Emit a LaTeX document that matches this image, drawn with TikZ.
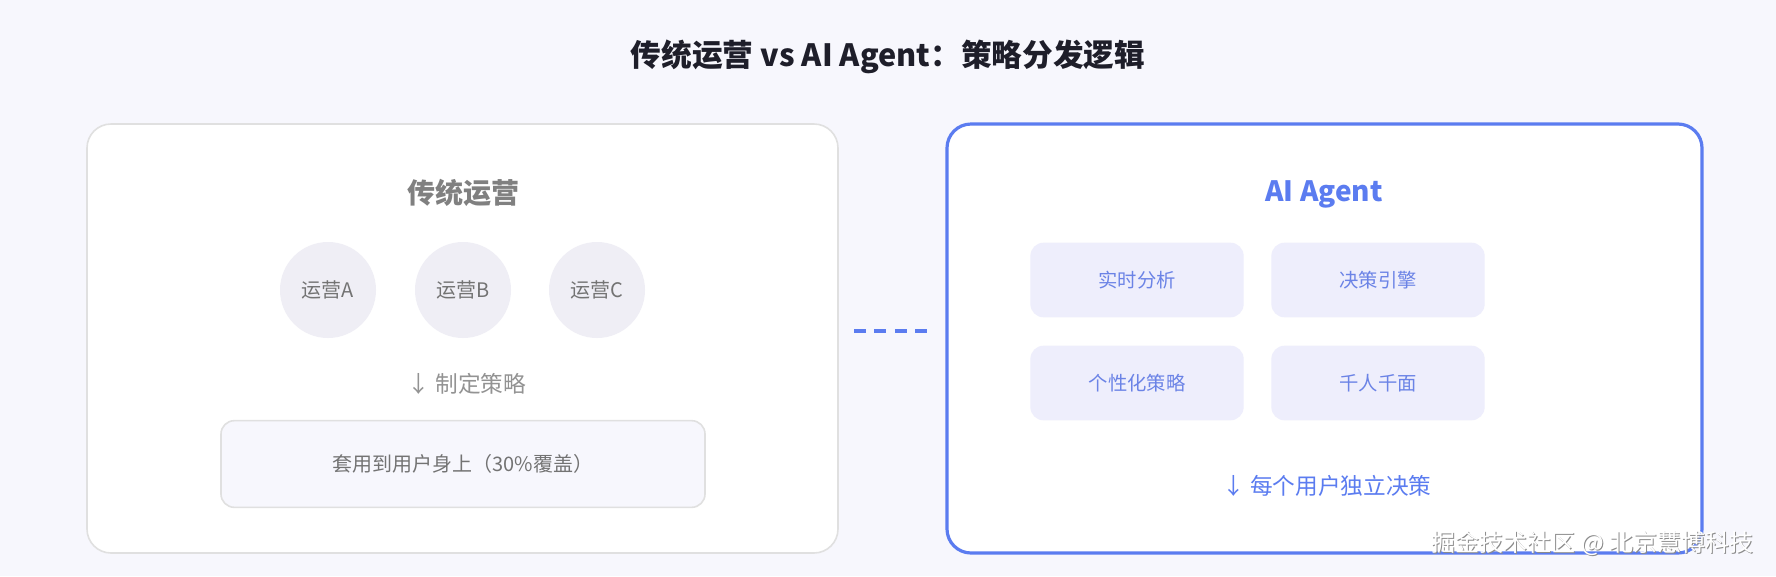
\documentclass[tikz,border=0pt]{standalone}
\usepackage{fontspec}
\setmainfont{Noto Sans CJK SC}
\begin{document}
\begin{tikzpicture}[x=0.75pt,y=-0.75pt,
  panel/.style={draw=#1,rounded corners=18pt,fill=white},
  circ/.style={circle,minimum size=72pt,inner sep=0,fill=circfill,text=gray!90!black,font=\fontsize{15}{18}\selectfont},
  abox/.style={minimum width=160pt,minimum height=56pt,rounded corners=10pt,fill=boxfill,text=boxtext,font=\fontsize{14.5}{17}\selectfont},
  lbl/.style={font=\fontsize{17}{20}\selectfont},
  wmark/.style={font=\fontsize{18}{20}\selectfont,anchor=east}]
\definecolor{bg}{HTML}{F7F7FD}
\definecolor{circfill}{HTML}{EFEEF5}
\definecolor{boxfill}{HTML}{EEEEFC}
\definecolor{boxtext}{HTML}{6B83E6}
\definecolor{blue1}{HTML}{5B7CF0}
\definecolor{ttl}{HTML}{1E1E2A}
\fill[bg] (0,0) rectangle (1776,576);
\useasboundingbox (0,0) rectangle (1776,576);
\node[font=\fontsize{23}{26}\selectfont\bfseries,text=ttl] (title) at (888,57) {传统运营 vs AI Agent：策略分发逻辑};
% left panel
\draw[panel=black!12,line width=1.2pt] (87,124) rectangle (838,553);
\node[font=\fontsize{21}{24}\selectfont\bfseries,text=gray] (lh) at (463,193) {传统运营};
\node[circ] (ca) at (328,290) {运营A};
\node[circ] (cb) at (463,290) {运营B};
\node[circ] (cc) at (597,290) {运营C};
\node[lbl,text=gray!85] (ld) at (467,384) {↓\ 制定策略};
\node[draw=black!12,line width=1.2pt,fill=bg,rounded corners=10pt,minimum width=363pt,minimum height=65pt,text=gray!90!black,font=\fontsize{15}{18}\selectfont] (lb) at (463,464) {套用到用户身上（30\%覆盖）};
% connector
\coordinate (d1) at (854,331);
\coordinate (d2) at (935,331);
\draw[blue1,line width=2.6pt,dash pattern=on 9pt off 6.3pt] (d1) -- (d2);
% right panel
\draw[panel=blue1,line width=2.4pt] (947,124) rectangle (1702,553);
\node[font=\fontsize{21}{24}\selectfont\bfseries,text=blue1] (rh) at (1324,194) {AI Agent};
\node[abox] (b1) at (1137,280) {实时分析};
\node[abox] (b2) at (1378,280) {决策引擎};
\node[abox] (b3) at (1137,383) {个性化策略};
\node[abox] (b4) at (1378,383) {千人千面};
\node[lbl,text=blue1] (rd) at (1327,486) {↓\ 每个用户独立决策};
\node[wmark,text=black!45] (wms) at (1759,544.5) {掘金技术社区 @ 北京慧博科技};
\node[wmark,text=white] (wm) at (1758,543) {掘金技术社区 @ 北京慧博科技};
\end{tikzpicture}
\end{document}
